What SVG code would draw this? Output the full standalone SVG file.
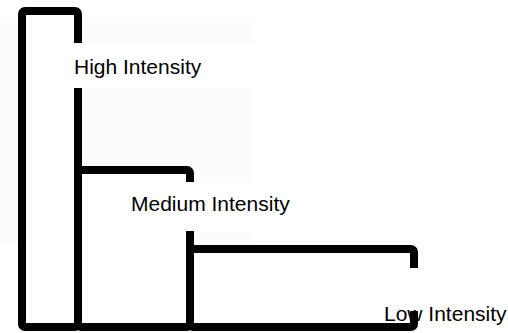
<svg xmlns="http://www.w3.org/2000/svg" width="508" height="333" viewBox="0 0 508 333">
<style>
.box{fill:#ffffff;stroke:#000000;stroke-width:8;stroke-linejoin:round}
.lbg{fill:#ffffff;stroke:none}
.lbl{font-family:"Liberation Sans",Arial,sans-serif;font-size:21px;fill:#000000}
</style>
<rect x="0" y="17" width="253" height="228" fill="#fcfcfc"/>
<g id="high">
<rect class="box" x="22" y="11" width="56" height="316" rx="3"/>
<rect class="lbg" x="70" y="43" width="183" height="45"/>
<text class="lbl" x="74" y="74">High Intensity</text>
</g>
<g id="medium">
<rect class="box" x="78" y="170" width="112" height="157" rx="3"/>
<rect class="lbg" x="127" y="182" width="190" height="49"/>
<text class="lbl" x="131" y="211">Medium Intensity</text>
</g>
<g id="low">
<rect class="box" x="190" y="249" width="224" height="78" rx="3"/>
<rect class="lbg" x="380" y="268" width="128" height="43"/>
<text class="lbl" x="384" y="321">Low Intensity</text>
</g>
</svg>
